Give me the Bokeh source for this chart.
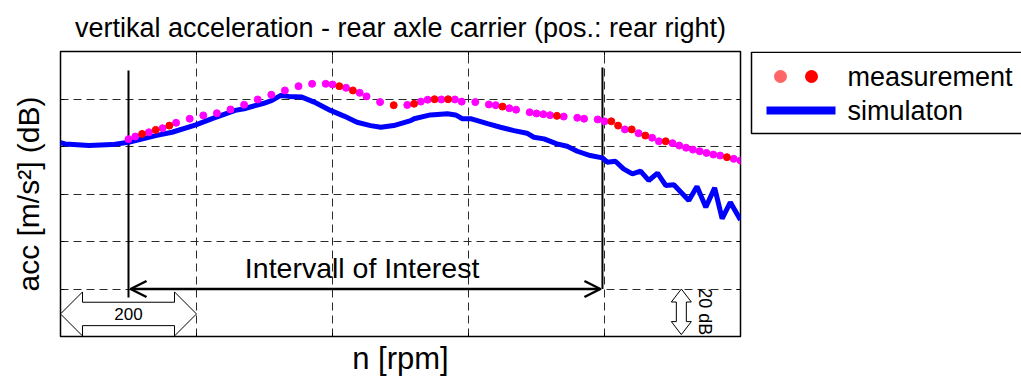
import math
from bokeh.plotting import figure
from bokeh.models import Range1d, FixedTicker, LinearAxis, Label, Arrow, OpenHead
from bokeh.layouts import row
from bokeh.embed import file_html
from bokeh.resources import INLINE
from bokeh.core.properties import value

FONT = "Liberation Sans"

TITLE = "vertikal acceleration - rear axle carrier (pos.: rear right)"
X_LABEL = "n [rpm]"
Y_LABEL = "acc [m/s²] (dB)"
LEGEND_LABELS = ["measurement", "simulaton"]
INTERVAL_TEXT = "Intervall of Interest"

X_TICKS = [0, 200, 400, 600, 800, 1000]
Y_TICKS = [0, 20, 40, 60, 80, 100, 120]

# simulation (blue line)
sim_n = [0, 7, 42, 76, 100, 140, 164, 199, 223, 257, 270, 299, 311, 324, 336, 355,
         373, 397, 417, 436, 456, 471, 490, 515, 520, 544, 569, 581, 591, 603, 628,
         647, 667, 686, 696, 711, 730, 745, 760, 779, 797, 804, 816, 828, 841, 853,
         865, 878, 890, 902, 924, 936, 949, 962, 973, 985, 1000]
sim_db = [81.6, 81.1, 80.4, 80.8, 81.8, 84.6, 86.0, 89.1, 91.7, 95.2, 95.9, 98.2,
          99.4, 101.5, 101.1, 100.8, 98.7, 95.2, 92.8, 90.2, 88.8, 88.1, 88.8, 90.9,
          91.7, 93.3, 93.8, 93.3, 91.7, 91.7, 89.6, 88.1, 86.7, 85.6, 83.9, 83.2,
          81.1, 80.1, 78.0, 76.2, 75.2, 73.4, 73.8, 70.6, 68.5, 69.6, 65.7, 68.8,
          63.6, 63.9, 57.3, 63.2, 54.4, 62.6, 49.6, 56.5, 49.1]

# measurement (magenta points)
meas_n = [100, 110, 130, 150, 170, 190, 210, 230, 250, 270, 290, 310, 330, 350, 370,
          390, 400, 420, 440, 450, 470, 510, 530, 540, 560, 580, 590, 610, 630, 640,
          660, 670, 690, 700, 710, 720, 740, 760, 770, 790, 800, 830, 850, 870, 880,
          900, 910, 920, 930, 940, 950, 960, 970, 990, 1000]
meas_db = [83.1, 84.2, 86.0, 87.7, 90.0, 91.7, 93.1, 94.0, 95.6, 97.6, 99.8, 101.8,
           103.6, 105.4, 106.4, 106.4, 106.1, 104.7, 102.6, 101.1, 98.7, 97.5, 98.9,
           99.7, 99.8, 99.8, 98.9, 98.7, 97.7, 97.4, 96.1, 95.5, 94.4, 93.9, 93.6,
           93.2, 92.6, 92.1, 91.7, 91.4, 90.6, 87.2, 85.6, 83.7, 82.2, 81.4, 80.4,
           79.5, 78.7, 78.0, 77.3, 76.6, 76.2, 74.8, 74.1]
# measurement (red points)
meas_red_n = [120, 140, 160, 410, 430, 490, 520, 550, 570, 650, 730, 810, 820, 840,
              860, 890, 980]
meas_red_db = [85.3, 87.0, 88.8, 105.4, 103.6, 97.4, 98.0, 99.9, 99.9, 96.8, 92.9,
               90.6, 88.8, 87.2, 84.6, 82.2, 75.5]

# annotation values
INTERVAL_START = 100
INTERVAL_END = 797
INTERVAL_LEVEL = 20
SCALE_X = 200
SCALE_DB = 20

FIG_H = 369
TOP = 51
FRAME_H = 285
BOTTOM = FIG_H - TOP - FRAME_H

p = figure(frame_width=680, frame_height=FRAME_H,
           x_range=Range1d(0, 1000), y_range=Range1d(0, 120),
           output_backend="svg", toolbar_location=None, title=TITLE,
           min_border_left=60, min_border_right=9, min_border_top=TOP,
           min_border_bottom=BOTTOM)
p.background_fill_color = "white"
p.border_fill_color = "white"
p.outline_line_color = "black"
p.outline_line_width = 1.5
p.outline_line_alpha = 1

p.title.text_font = FONT
p.title.text_font_size = "27px"
p.title.text_font_style = "normal"
p.title.align = "center"
p.title.text_color = "black"
if hasattr(p.title, "standoff"):
    p.title.standoff = 18

# tick marks only (drawn inward, as minor ticks so no tick labels are produced)
p.xaxis.ticker = FixedTicker(ticks=[], minor_ticks=X_TICKS)
p.yaxis.ticker = FixedTicker(ticks=[], minor_ticks=Y_TICKS)
p.xgrid.ticker = FixedTicker(ticks=X_TICKS)
p.ygrid.ticker = FixedTicker(ticks=Y_TICKS)
for ax in (p.xaxis[0], p.yaxis[0]):
    ax.minor_tick_in = 4
    ax.minor_tick_out = 0
    ax.minor_tick_line_color = "black"
    ax.major_tick_line_color = None
    ax.major_label_standoff = 0
    ax.axis_line_color = None
    ax.axis_label_text_font = FONT
    ax.axis_label_text_font_style = "normal"
    ax.axis_label_text_color = "black"
p.xaxis.axis_label = X_LABEL
p.xaxis.axis_label_text_font_size = "31px"
p.xaxis.axis_label_standoff = 4
p.yaxis.axis_label = Y_LABEL
p.yaxis.axis_label_text_font_size = "30px"
p.yaxis.axis_label_standoff = 16

for loc, ticks in (("right", Y_TICKS), ("above", X_TICKS)):
    ax = LinearAxis(ticker=FixedTicker(ticks=[], minor_ticks=ticks), minor_tick_in=4,
                    minor_tick_out=0, minor_tick_line_color="black",
                    major_tick_line_color=None, major_label_standoff=0,
                    axis_line_color=None)
    p.add_layout(ax, loc)

p.grid.grid_line_color = "#2a2a2a"
p.grid.grid_line_dash = "8 5"
p.grid.grid_line_width = 1

# scale block arrows (white filled, black outline)
px_x = 680 / 1000.0
px_y = FRAME_H / 120.0
c = 9.5
H = 22 / px_y
S = 11.7 / px_y
h = 22 / px_x
L = SCALE_X
p.patch(x=[0, h, h, L - h, L - h, L, L - h, L - h, h, h],
        y=[c, c + H, c + S, c + S, c + H, c, c - H, c - S, c - S, c - H],
        fill_color="white", line_color="black", line_width=1)
p.add_layout(Label(x=SCALE_X / 2, y=c, text=str(SCALE_X), text_align="center",
                   text_baseline="middle", text_font=FONT, text_font_size="17px",
                   text_color="black"))

xc = 913
HW = 10 / px_x
SW = 5 / px_x
hl = 13 / px_y
y0, y1 = 0.8, SCALE_DB
p.patch(x=[xc, xc + HW, xc + SW, xc + SW, xc + HW, xc, xc - HW, xc - SW, xc - SW, xc - HW],
        y=[y1, y1 - hl, y1 - hl, y0 + hl, y0 + hl, y0, y0 + hl, y0 + hl, y1 - hl, y1 - hl],
        fill_color="white", line_color="black", line_width=1)
p.add_layout(Label(x=xc + 35, y=(y0 + y1) / 2, text=f"{SCALE_DB} dB", angle=-math.pi / 2,
                   text_align="center", text_baseline="middle", text_font=FONT,
                   text_font_size="18px", text_color="black"))

# interval of interest
p.segment(x0=[INTERVAL_START, INTERVAL_END], x1=[INTERVAL_START, INTERVAL_END],
          y0=[16.4, INTERVAL_LEVEL], y1=[112, 113.3], line_color="black", line_width=2)
p.add_layout(Arrow(start=OpenHead(size=16, line_width=2.5, line_color="black"),
                   end=OpenHead(size=16, line_width=2.5, line_color="black"),
                   x_start=INTERVAL_START + 3, x_end=INTERVAL_END - 3,
                   y_start=INTERVAL_LEVEL, y_end=INTERVAL_LEVEL,
                   line_width=2.5, line_color="black"))
p.add_layout(Label(x=(INTERVAL_START + INTERVAL_END) / 2 - 5, y=INTERVAL_LEVEL + 9,
                   text=INTERVAL_TEXT, text_align="center", text_baseline="middle",
                   text_font=FONT, text_font_size="28.5px", text_color="black"))

# data
p.line(sim_n, sim_db, line_color="#0000ff", line_width=5)
p.scatter(meas_n, meas_db, size=7, fill_color="#ff00ff", line_color="#ff00ff")
p.scatter(meas_red_n, meas_red_db, size=7, fill_color="#ff0000", line_color="#ff0000")

# legend panel: its frame is aligned with the main frame; y in page pixels
LEG_W = 272
leg = figure(frame_width=LEG_W, frame_height=FRAME_H,
             x_range=Range1d(0, LEG_W), y_range=Range1d(TOP + FRAME_H, TOP),
             output_backend="svg", toolbar_location=None,
             min_border_left=0, min_border_right=0, min_border_top=TOP,
             min_border_bottom=BOTTOM, x_axis_type=None, y_axis_type=None)
leg.title.visible = False
leg.outline_line_color = None
leg.background_fill_color = "white"
leg.border_fill_color = "white"
leg.quad(left=[2], right=[300], top=[51.8], bottom=[133], fill_color="white",
         line_color="black", line_width=1.5)
leg.scatter(x=[31, 62], y=[76, 76], size=13, fill_color=["#ff6666", "#ff0000"],
            line_color=None)
leg.line(x=[17, 86], y=[110, 110], line_color="#0000ff", line_width=8)
leg.text(x=[98, 98], y=[76, 110], text=LEGEND_LABELS, text_font=value(FONT),
         text_font_size=value("27px"), text_baseline="middle", text_color="black")

layout = row(p, leg)
open("out.html", "w").write(file_html(layout, INLINE))
